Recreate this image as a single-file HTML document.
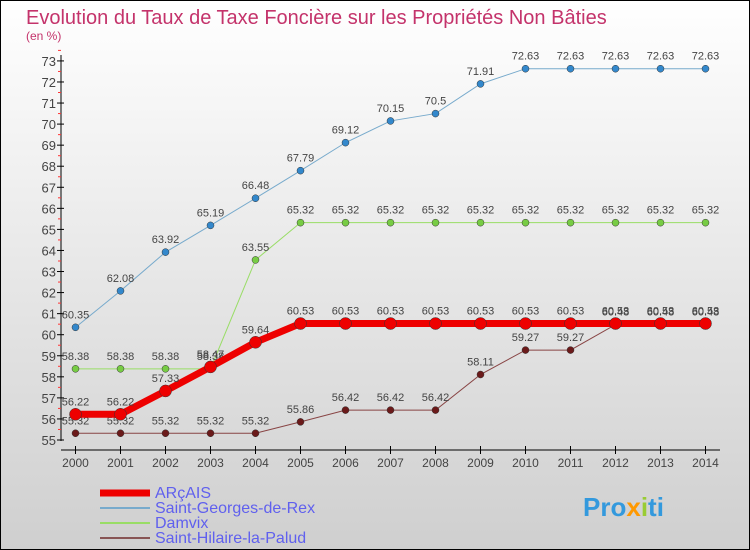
<!DOCTYPE html>
<html><head><meta charset="utf-8"><style>
body{margin:0}
svg{display:block;font-family:"Liberation Sans",sans-serif}
</style></head><body>
<svg id="c" width="750" height="550" viewBox="0 0 750 550">
<defs><linearGradient id="bg" x1="0" y1="0" x2="0" y2="1"><stop offset="0" stop-color="#ffffff"/><stop offset="1" stop-color="#cfcfcf"/></linearGradient></defs>
<rect x="0.5" y="0.5" width="749" height="549" fill="url(#bg)" stroke="#000"/>
<text x="26" y="24" font-size="20" fill="#c4336b">Evolution du Taux de Taxe Foncière sur les Propriétés Non Bâties</text>
<text x="26" y="40" font-size="12" fill="#c4336b">(en %)</text>
<g id="axes"></g><g id="series"></g>
<g>
<line x1="100" y1="493" x2="150" y2="493" stroke="#ee0000" stroke-width="7"/>
<text x="155" y="498" font-size="16" fill="#6060ee">ARçAIS</text>
<line x1="100" y1="508" x2="150" y2="508" stroke="#77aacc" stroke-width="2"/>
<text x="155" y="513" font-size="16" fill="#6060ee">Saint-Georges-de-Rex</text>
<line x1="100" y1="523" x2="150" y2="523" stroke="#99dd66" stroke-width="2"/>
<text x="155" y="528" font-size="16" fill="#6060ee">Damvix</text>
<line x1="100" y1="538" x2="150" y2="538" stroke="#885555" stroke-width="2"/>
<text x="155" y="543" font-size="16" fill="#6060ee">Saint-Hilaire-la-Palud</text>
</g>
<text x="583" y="516" font-size="26" font-weight="bold" fill="#3399dd">Pro<tspan fill="#ff9900">x</tspan><tspan fill="#99cc33">i</tspan>ti</text>
</svg>
<script>
const years=[2000,2001,2002,2003,2004,2005,2006,2007,2008,2009,2010,2011,2012,2013,2014];
const arcais=[56.22,56.22,57.33,58.47,59.64,60.53,60.53,60.53,60.53,60.53,60.53,60.53,60.53,60.53,60.53];
const sgr=[60.35,62.08,63.92,65.19,66.48,67.79,69.12,70.15,70.5,71.91,72.63,72.63,72.63,72.63,72.63];
const damvix=[58.38,58.38,58.38,58.38,63.55,65.32,65.32,65.32,65.32,65.32,65.32,65.32,65.32,65.32,65.32];
const shp=[55.32,55.32,55.32,55.32,55.32,55.86,56.42,56.42,56.42,58.11,59.27,59.27,60.48,60.48,60.48];
const yTicks=[55,56,57,58,59,60,61,62,63,64,65,66,67,68,69,70,71,72,73];
const NS='http://www.w3.org/2000/svg';
const X=i=>75.5+i*45, Y=v=>440-(v-55)*21.06;
function mk(t,a,p){const e=document.createElementNS(NS,t);for(const k in a)e.setAttribute(k,a[k]);p.appendChild(e);return e;}
const ax=document.getElementById('axes');
let l=mk('line',{x1:61,y1:55,x2:61,y2:441,stroke:'#000'},ax);


l=mk('line',{x1:61,y1:450,x2:720,y2:450,stroke:'#000'},ax);


yTicks.forEach(v=>{
  mk('line',{x1:57,y1:Y(v),x2:64,y2:Y(v),stroke:'#000'},ax);
  mk('line',{x1:58,y1:Y(v+0.5),x2:61,y2:Y(v+0.5),stroke:'#f33'},ax);
  const t=mk('text',{x:56,y:Y(v)+5,'font-size':13,'text-anchor':'end',fill:'#444'},ax);
  
  
  t.textContent=v;
});
years.forEach((yr,i)=>{
  mk('line',{x1:X(i),y1:446,x2:X(i),y2:454,stroke:'#000'},ax);
  const t=mk('text',{x:X(i),y:467,'font-size':12,'text-anchor':'middle',fill:'#444'},ax);
  
  
  t.textContent=yr;
});
const sg=document.getElementById('series');
function series(name,vals,col,dot,w,r){
  const g=mk('g',{},sg);
  
  
  mk('polyline',{points:vals.map((v,i)=>X(i)+','+Y(v)).join(' '),fill:'none',stroke:col,'stroke-width':w},g);
  vals.forEach((v,i)=>{
    const c=mk('circle',{cx:X(i),cy:Y(v),r:r,fill:dot,stroke:'#333','stroke-width':0.5},g);
    
    
    const t=mk('text',{x:X(i),y:Y(v)-9,'font-size':11,'text-anchor':'middle',fill:'#444'},g);
    
    
    t.textContent=v;
  });
}
series('saint-hilaire',shp,'#884444','#6b1a1a',1,3.5);
series('damvix',damvix,'#99dd66','#77cc44',1,3.5);
series('saint-georges',sgr,'#77aacc','#3388cc',1,3.5);
series('arcais',arcais,'#ee0000','#ee0000',7,6);
</script>
</body></html>
